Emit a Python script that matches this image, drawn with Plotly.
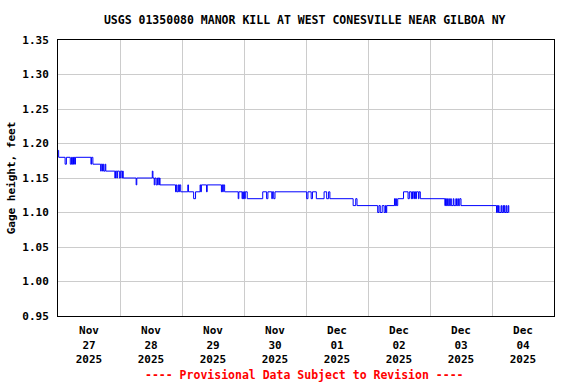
import plotly.graph_objects as go

# ---- data (15-minute gage readings, step changes) ----
times = [
    "2025-11-27 00:00", "2025-11-27 00:15", "2025-11-27 02:45", "2025-11-27 03:15",
    "2025-11-27 04:45", "2025-11-27 05:15", "2025-11-27 05:30", "2025-11-27 05:45",
    "2025-11-27 06:00", "2025-11-27 06:15", "2025-11-27 06:30", "2025-11-27 06:45",
    "2025-11-27 12:45", "2025-11-27 13:00", "2025-11-27 13:30", "2025-11-27 16:30",
    "2025-11-27 16:45", "2025-11-27 17:15", "2025-11-27 17:30", "2025-11-27 17:45",
    "2025-11-27 18:15", "2025-11-27 18:30", "2025-11-27 22:00", "2025-11-27 22:15",
    "2025-11-27 22:45", "2025-11-27 23:00", "2025-11-27 23:45",
    "2025-11-28 00:15", "2025-11-28 00:45", "2025-11-28 01:00", "2025-11-28 01:15",
    "2025-11-28 06:15", "2025-11-28 06:30", "2025-11-28 12:30", "2025-11-28 12:45",
    "2025-11-28 13:15", "2025-11-28 13:30", "2025-11-28 14:00", "2025-11-28 14:30",
    "2025-11-28 15:00", "2025-11-28 15:15", "2025-11-28 15:30", "2025-11-28 21:30",
    "2025-11-28 21:45", "2025-11-28 22:00", "2025-11-28 22:30", "2025-11-28 22:45",
    "2025-11-28 23:00", "2025-11-28 23:30",
    "2025-11-29 02:15", "2025-11-29 02:30", "2025-11-29 04:30", "2025-11-29 05:15",
    "2025-11-29 07:00", "2025-11-29 07:15", "2025-11-29 07:30", "2025-11-29 09:30",
    "2025-11-29 09:45", "2025-11-29 15:15", "2025-11-29 15:30", "2025-11-29 15:45",
    "2025-11-29 16:00", "2025-11-29 16:30", "2025-11-29 21:45", "2025-11-29 22:00",
    "2025-11-29 23:15", "2025-11-29 23:30", "2025-11-29 23:45",
    "2025-11-30 00:00", "2025-11-30 00:15", "2025-11-30 00:30", "2025-11-30 01:15",
    "2025-11-30 07:15", "2025-11-30 08:45", "2025-11-30 09:15", "2025-11-30 10:45",
    "2025-11-30 11:00", "2025-11-30 11:30", "2025-11-30 12:00",
    "2025-12-01 00:15", "2025-12-01 00:45", "2025-12-01 02:00", "2025-12-01 02:30",
    "2025-12-01 04:00", "2025-12-01 07:00", "2025-12-01 08:00", "2025-12-01 08:45",
    "2025-12-01 09:15", "2025-12-01 18:15", "2025-12-01 19:15", "2025-12-01 19:45",
    "2025-12-02 03:45", "2025-12-02 04:15", "2025-12-02 04:45", "2025-12-02 05:30",
    "2025-12-02 06:15", "2025-12-02 06:45", "2025-12-02 07:00", "2025-12-02 07:15",
    "2025-12-02 10:15", "2025-12-02 10:30", "2025-12-02 10:45", "2025-12-02 11:00",
    "2025-12-02 11:30", "2025-12-02 13:45", "2025-12-02 15:30", "2025-12-02 16:00",
    "2025-12-02 16:45", "2025-12-02 17:00", "2025-12-02 17:15", "2025-12-02 17:30",
    "2025-12-02 18:00", "2025-12-02 18:15", "2025-12-02 18:30", "2025-12-02 18:45",
    "2025-12-02 19:30", "2025-12-02 19:45", "2025-12-02 20:15",
    "2025-12-03 05:45", "2025-12-03 06:00", "2025-12-03 06:15", "2025-12-03 06:30",
    "2025-12-03 06:45", "2025-12-03 07:15", "2025-12-03 07:30", "2025-12-03 08:00",
    "2025-12-03 08:15", "2025-12-03 09:00", "2025-12-03 09:15", "2025-12-03 10:00",
    "2025-12-03 10:15", "2025-12-03 10:45", "2025-12-03 11:00", "2025-12-03 11:30",
    "2025-12-03 12:00",
    "2025-12-04 01:45", "2025-12-04 02:00", "2025-12-04 02:15", "2025-12-04 02:30",
    "2025-12-04 02:45", "2025-12-04 03:30", "2025-12-04 03:45", "2025-12-04 04:15",
    "2025-12-04 04:30", "2025-12-04 04:45", "2025-12-04 05:00", "2025-12-04 05:30",
    "2025-12-04 05:45", "2025-12-04 06:15", "2025-12-04 06:30",
]
gage_height = [
    1.19, 1.18, 1.17, 1.18,
    1.17, 1.18, 1.17, 1.18,
    1.17, 1.18, 1.17, 1.18,
    1.17, 1.18, 1.17, 1.16,
    1.17, 1.16, 1.17, 1.16,
    1.17, 1.16, 1.15, 1.16,
    1.15, 1.16, 1.15,
    1.16, 1.15, 1.16, 1.15,
    1.14, 1.15, 1.16, 1.15,
    1.14, 1.15, 1.14, 1.15,
    1.14, 1.15, 1.14, 1.13,
    1.14, 1.13, 1.14, 1.13,
    1.14, 1.13,
    1.14, 1.13, 1.12, 1.13,
    1.14, 1.13, 1.14, 1.13,
    1.14, 1.13, 1.14, 1.13,
    1.14, 1.13, 1.12, 1.13,
    1.12, 1.13, 1.12,
    1.13, 1.12, 1.13, 1.12,
    1.13, 1.12, 1.13, 1.12,
    1.13, 1.12, 1.13,
    1.12, 1.13, 1.12, 1.13,
    1.12, 1.13, 1.12, 1.13,
    1.12, 1.11, 1.12, 1.11,
    1.10, 1.11, 1.10, 1.11,
    1.10, 1.11, 1.10, 1.11,
    1.12, 1.11, 1.12, 1.11,
    1.12, 1.13, 1.12, 1.13,
    1.12, 1.13, 1.12, 1.13,
    1.12, 1.13, 1.12, 1.13,
    1.12, 1.13, 1.12,
    1.11, 1.12, 1.11, 1.12,
    1.11, 1.12, 1.11, 1.12,
    1.11, 1.12, 1.11, 1.12,
    1.11, 1.12, 1.11, 1.12,
    1.11,
    1.10, 1.11, 1.10, 1.11,
    1.10, 1.11, 1.10, 1.11,
    1.10, 1.11, 1.10, 1.11,
    1.10, 1.11, 1.10,
]

day_ticks = ["2025-11-27 12:00", "2025-11-28 12:00", "2025-11-29 12:00", "2025-11-30 12:00",
             "2025-12-01 12:00", "2025-12-02 12:00", "2025-12-03 12:00", "2025-12-04 12:00"]
day_labels = ["Nov<br>27<br>2025", "Nov<br>28<br>2025", "Nov<br>29<br>2025", "Nov<br>30<br>2025",
              "Dec<br>01<br>2025", "Dec<br>02<br>2025", "Dec<br>03<br>2025", "Dec<br>04<br>2025"]
midnights = ["2025-11-28", "2025-11-29", "2025-11-30", "2025-12-01",
             "2025-12-02", "2025-12-03", "2025-12-04"]
y_ticks = [0.95, 1.00, 1.05, 1.10, 1.15, 1.20, 1.25, 1.30, 1.35]

title_text = "USGS 01350080 MANOR KILL AT WEST CONESVILLE NEAR GILBOA NY"
y_title = "Gage height, feet"
footer = "---- Provisional Data Subject to Revision ----"

FONT = "DejaVu Sans Mono"

fig = go.Figure()
fig.add_trace(go.Scatter(
    x=times, y=gage_height, mode="lines", line_shape="hv",
    line=dict(color="#0000ff", width=1), showlegend=False, hoverinfo="x+y",
))

fig.update_layout(
    width=576, height=384,
    margin=dict(l=58, r=22, t=40, b=68, autoexpand=False),
    paper_bgcolor="white", plot_bgcolor="white",
    font=dict(family=FONT, size=11, color="black", weight="bold"),
    title=dict(text=title_text, x=0.529, xanchor="center", xref="container",
               y=1 - 20 / 384, yref="container", yanchor="middle", automargin=False,
               font=dict(family=FONT, size=11.5, color="black", weight="bold")),
)
fig.update_xaxes(
    range=["2025-11-27 00:00", "2025-12-05 00:00"], automargin=False,
    tickmode="array", tickvals=day_ticks, ticktext=day_labels,
    showgrid=False, ticks="outside", ticklen=4, tickcolor="rgba(0,0,0,0)", tickangle=0,
    minor=dict(tickmode="array", tickvals=midnights, showgrid=True,
               gridcolor="#cccccc", gridwidth=1, ticks=""),
    showline=True, linecolor="black", linewidth=1, mirror=True,
    zeroline=False,
    tickfont=dict(family=FONT, size=11, color="black", weight="bold"),
)
fig.update_yaxes(
    range=[0.95, 1.35], tickmode="array", tickvals=y_ticks, automargin=False,
    tickformat=".2f", showgrid=True, gridcolor="#cccccc", gridwidth=1,
    showline=True, linecolor="black", linewidth=1, mirror=True,
    zeroline=False, ticks="outside", ticklen=6, tickcolor="rgba(0,0,0,0)",
    title=dict(text=y_title, standoff=4,
               font=dict(family=FONT, size=11, color="black", weight="bold")),
    tickfont=dict(family=FONT, size=11, color="black", weight="bold"),
)
fig.add_annotation(
    text=footer, xref="paper", yref="paper", x=0.497, y=-(375 - 316) / 276,
    xanchor="center", yanchor="middle", showarrow=False,
    font=dict(family=FONT, size=11.5, color="red", weight="bold"),
)

fig.write_html(
    "out.html",
    config={"displayModeBar": False},
    post_script="document.body.style.margin='0px';document.body.style.overflow='hidden';",
)
